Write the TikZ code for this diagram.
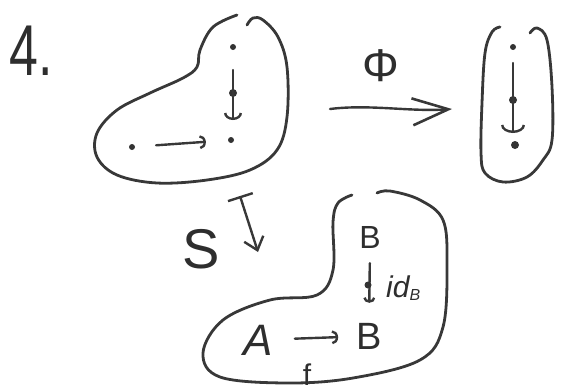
\documentclass[tikz,border=0pt]{standalone}
\usepackage{fontspec}
\setmainfont{Liberation Sans}
\usetikzlibrary{arrows.meta}
\begin{document}
\begin{tikzpicture}[x=1pt,y=-1pt,
  ink/.style={draw=black!78, line width=2.4pt, line cap=round, line join=round},
  blob/.style={ink, line width=2.8pt},
  sdot/.style={circle, fill=black!80, inner sep=0pt, minimum size=6pt},
  bdot/.style={circle, fill=black!80, inner sep=0pt, minimum size=8pt},
  hookarr/.style={ink, -{Arc Barb[length=6pt, width=14pt, line width=2.4pt]}},
  lbl/.style={text=black!82, inner sep=0pt}
]
\useasboundingbox (0,0) rectangle (564,391);
% title
\node[lbl, font=\fontsize{72}{72}\selectfont, xscale=0.72, transform shape] (num) at (31,51) {4.};
% left blob
\draw[blob] plot[smooth, tension=0.6] coordinates {(237,15) (213,27) (200,50) (197,67) (183,78) (150,93) (117,110) (97,133) (97,157) (117,175) (157,183) (207,180) (250,170) (277,150) (287,117) (287,67) (278,37) (263,20) (253,18) (247,25)};
\node[sdot] (a1) at (233,47) {};
\node[bdot] (a2) at (233,93) {};
\node[sdot] (a3) at (231,140) {};
\node[sdot] (a4) at (132,147) {};
\draw[ink] (a1) ++(0,23) coordinate (a1s) -- (a2.center);
\draw[ink, -{Arc Barb[length=7pt, width=18pt, line width=2.4pt]}] (a2.center) -- ++(0,27) coordinate (a2e);
\draw[hookarr, shorten <=21pt, shorten >=22pt] (a4) -- (a3);
% right blob
\draw[blob] plot[smooth, tension=0.6] coordinates {(500,27) (492,32) (485,53) (482,103) (481,153) (485,173) (503,182) (527,177) (543,160) (552,140) (552,87) (547,40) (537,28) (530,33)};
\node[sdot] (b1) at (513,47) {};
\node[bdot] (b2) at (513,100) {};
\node[bdot] (b3) at (515,145) {};
\draw[ink] (b1) ++(0,16) -- (b2.center);
\draw[ink, -{Arc Barb[length=8pt, width=24pt, line width=2.4pt]}] (b2.center) -- ++(0,33);
% Phi arrow
\coordinate (phis) at (330,109);
\coordinate (phie) at (452,109);
\draw[ink, -{Straight Barb[length=36pt, width=27pt, line width=2.6pt]}] (phis) .. controls (370,104) and (410,112) .. (phie);
\node[lbl, font=\fontsize{46}{46}\selectfont] (phi) at (381,66) {Φ};
% S arrow
\coordinate (ss) at (240,196);
\coordinate (se) at (258,252);
\draw[ink, {Bar[width=26pt, line width=2.4pt]}-{Straight Barb[length=12pt, width=20pt, line width=2.4pt]}] (ss) -- (se);
\node[lbl, font=\fontsize{56}{56}\selectfont] (S) at (201,249) {S};
% bottom blob
\draw[blob] plot[smooth, tension=0.6] coordinates {(352,195) (338,203) (333,222) (333,270) (317,295) (270,300) (223,320) (203,353) (220,377) (287,383) (353,378) (420,360) (443,327) (447,263) (443,220) (420,200) (390,191) (377,193)};
\node[lbl, font=\fontsize{32}{32}\selectfont] (B1) at (370,237) {B};
\node[lbl, font=\fontsize{38}{38}\selectfont] (B2) at (369,336) {B};
\node[lbl, font=\itshape\fontsize{44}{44}\selectfont] (A) at (258,340) {A};
\node[lbl, font=\fontsize{30}{30}\selectfont] (f) at (307,375) {f};
\node[lbl, font=\itshape\fontsize{30}{30}\selectfont, anchor=west] (id) at (386,288) {id\textsubscript{\fontsize{16}{16}\selectfont B}};
\draw[hookarr, shorten <=22pt, shorten >=18pt] (A) -- (B2);
\draw[ink, -{Arc Barb[length=5pt, width=12pt, line width=2.4pt]}, shorten <=15pt, shorten >=20pt] (B1.south) -- (B2.north);
\node[sdot, minimum size=7pt] (m) at (368,285) {};
\end{tikzpicture}
\end{document}
